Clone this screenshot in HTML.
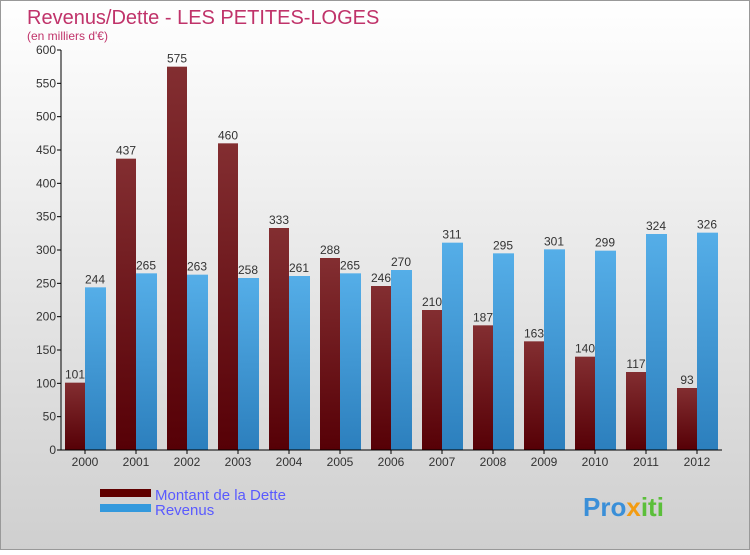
<!DOCTYPE html>
<html><head><meta charset="utf-8"><style>
body{margin:0}
#c{width:750px;height:550px;position:relative;font-family:"Liberation Sans",sans-serif}
</style></head><body>
<div id="c">
<svg width="750" height="550" xmlns="http://www.w3.org/2000/svg">
<defs>
<linearGradient id="bg" x1="0" y1="0" x2="0" y2="1"><stop offset="0" stop-color="#ffffff"/><stop offset="1" stop-color="#cfcfcf"/></linearGradient>
<linearGradient id="gd" x1="0" y1="0" x2="0" y2="1"><stop offset="0" stop-color="#832e31"/><stop offset="1" stop-color="#560006"/></linearGradient>
<linearGradient id="gr" x1="0" y1="0" x2="0" y2="1"><stop offset="0" stop-color="#55aee8"/><stop offset="1" stop-color="#2c7fbd"/></linearGradient>
</defs>
<rect x="0.5" y="0.5" width="749" height="549" fill="url(#bg)" stroke="#999"/>
<text x="27" y="24" font-size="20" fill="#c0336a">Revenus/Dette - LES PETITES-LOGES</text>
<text x="27" y="40" font-size="12" fill="#c0336a">(en milliers d'€)</text>
<g id="plot"></g>
<rect x="100" y="489" width="51" height="8" fill="#600000"/>
<text x="155" y="500" font-size="15" fill="#5a5aff">Montant de la Dette</text>
<rect x="100" y="504" width="51" height="8" fill="#3399dd"/>
<text x="155" y="515" font-size="15" fill="#5a5aff">Revenus</text>
<text x="583" y="516" font-size="26" font-weight="bold" fill="#3a8fd8">Pro<tspan fill="#f39c12">x</tspan><tspan fill="#5bbf3a">iti</tspan></text>
</svg>
</div>
<script>
const years=["2000","2001","2002","2003","2004","2005","2006","2007","2008","2009","2010","2011","2012"];
const dette=[101,437,575,460,333,288,246,210,187,163,140,117,93];
const revenus=[244,265,263,258,261,265,270,311,295,301,299,324,326];
const yTicks=[0,50,100,150,200,250,300,350,400,450,500,550,600];
const NS="http://www.w3.org/2000/svg";
const g=document.getElementById('plot');
const y=v=>450-v*400/600;
const x=i=>85+i*51;
function mk(t,a,p){const e=document.createElementNS(NS,t);for(const k in a)e.setAttribute(k,a[k]);(p||g).appendChild(e);return e;}
yTicks.forEach(v=>{
 const l=mk('line',{x1:57,x2:61,y1:y(v),y2:y(v),stroke:'#000'});
 
 
 const t=mk('text',{x:56,y:y(v)+4,'font-size':12,'text-anchor':'end',fill:'#333'});
 t.textContent=v;
 
 
});
years.forEach((yr,i)=>{
 const cx=x(i);
 const b1=mk('rect',{x:cx-20,y:y(dette[i]),width:20,height:450-y(dette[i]),fill:'url(#gd)'});
 
 
 const b2=mk('rect',{x:cx,y:y(revenus[i]),width:21,height:450-y(revenus[i]),fill:'url(#gr)'});
 
 
 const t1=mk('text',{x:cx-10,y:y(dette[i])-4,'font-size':12,'text-anchor':'middle',fill:'#333'});
 t1.textContent=dette[i];
 
 
 const t2=mk('text',{x:cx+10,y:y(revenus[i])-4,'font-size':12,'text-anchor':'middle',fill:'#333'});
 t2.textContent=revenus[i];
 
 
 const tk=mk('line',{x1:cx,x2:cx,y1:450,y2:454,stroke:'#000'});
 
 
 const xl=mk('text',{x:cx,y:466,'font-size':12,'text-anchor':'middle',fill:'#333'});
 xl.textContent=yr;
 
 
});
const ya=mk('line',{x1:61,x2:61,y1:50,y2:450,stroke:'#000'});


const xa=mk('line',{x1:61,x2:722,y1:450,y2:450,stroke:'#000'});


</script>
</body></html>
